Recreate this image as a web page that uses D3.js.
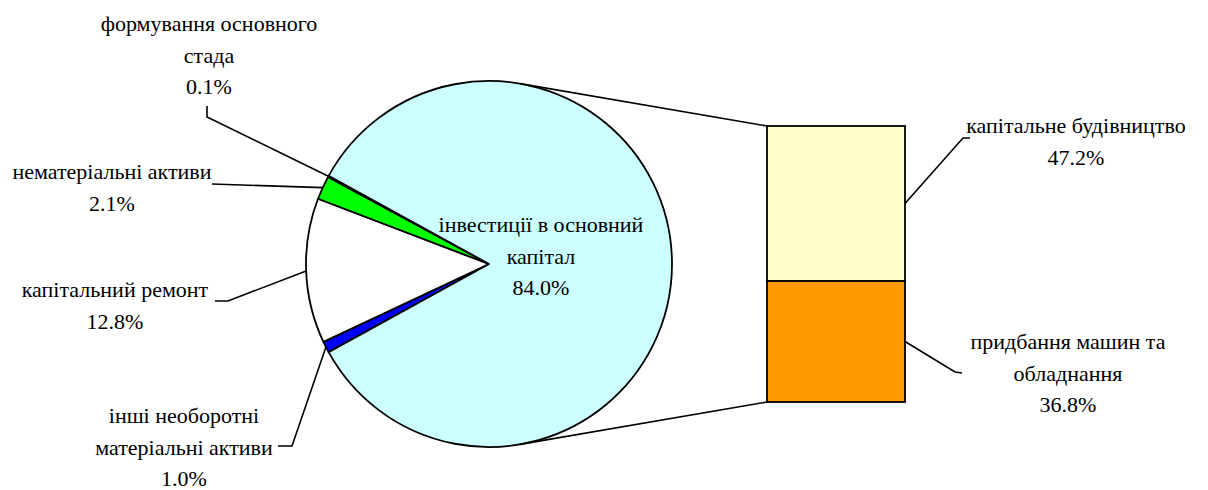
<!DOCTYPE html>
<html>
<head>
<meta charset="utf-8">
<script src="https://cdn.jsdelivr.net/npm/d3@7"></script>
<style>
  body { margin: 0; background: #fff; }
</style>
</head>
<body>
<div id="chart"></div>
<script>
// pie slices, clockwise from the lower-left edge of the small group
var pieNames = ["інші необоротні матеріальні активи", "капітальний ремонт", "нематеріальні активи", "формування основного стада", "інвестиції в основний капітал"];
var pieValues = [1.0, 12.8, 2.1, 0.1, 84.0];
var pieColors = ["#0000ff", "#ffffff", "#00ff00", "#333399", "#ccffff"];
// label lines as they wrap in the picture
var pieLabelLines = [
  ["інші необоротні", "матеріальні активи"],
  ["капітальний ремонт"],
  ["нематеріальні активи"],
  ["формування основного", "стада"],
  ["інвестиції в основний", "капітал"]
];

// the bar that splits the big slice
var barNames = ["капітальне будівництво", "придбання машин та обладнання"];
var barValues = [47.2, 36.8];
var barColors = ["#ffffcc", "#ff9900"];
var barLabelLines = [["капітальне будівництво"], ["придбання машин та", "обладнання"]];

var width = 1208, height = 490;
var cx = 489, cy = 264, r = 183;
var lineH = 31.5;
var FONT = "'Liberation Serif', 'DejaVu Serif', serif";

var svg = d3.select("#chart").append("svg")
  .attr("width", width)
  .attr("height", height);

var fmt = function(v) { return v.toFixed(1) + "%"; };

// small group (first four) is centred on the left side
var smallTotal = d3.sum(pieValues.slice(0, 4));
var total = d3.sum(pieValues);
var start = 1.5 * Math.PI - (smallTotal / total) * Math.PI;

var pie = d3.pie().sort(null).value(function(d) { return d; })
  .startAngle(start).endAngle(start + 2 * Math.PI);
var arcs = pie(pieValues);

var arc = d3.arc().innerRadius(0).outerRadius(r);
var edge = d3.arc().innerRadius(r).outerRadius(r);

var g = svg.append("g").attr("transform", "translate(" + cx + "," + cy + ")");

// bar geometry
var barX0 = 767, barX1 = 905;
var y = d3.scaleLinear().domain([0, d3.sum(barValues)]).range([126, 402]);

// connector lines, tangent from the bar corners to the circle
function tangent(px, py, side) {
  var dx = px - cx, dy = py - cy;
  var d = Math.sqrt(dx * dx + dy * dy);
  var a = Math.atan2(dy, dx) + side * Math.acos(r / d);
  return [cx + r * Math.cos(a), cy + r * Math.sin(a)];
}
var tTop = tangent(barX0, y(0), -1);
var tBot = tangent(barX0, y(d3.sum(barValues)), 1);
svg.append("line").attr("x1", tTop[0]).attr("y1", tTop[1]).attr("x2", barX0).attr("y2", y(0))
  .attr("stroke", "#000").attr("stroke-width", 1.6);
svg.append("line").attr("x1", tBot[0]).attr("y1", tBot[1]).attr("x2", barX0).attr("y2", y(d3.sum(barValues)))
  .attr("stroke", "#000").attr("stroke-width", 1.6);

g.selectAll("path.slice")
  .data(arcs)
  .enter()
  .append("path")
  .attr("class", "slice")
  .attr("d", arc)
  .attr("fill", function(d, i) { return pieColors[i]; })
  .attr("stroke", "#000")
  .attr("stroke-width", 1.8)
  .attr("stroke-linejoin", "round");

function addLabel(x, y0, lines) {
  var t = svg.append("text")
    .attr("text-anchor", "middle")
    .attr("font-size", 22)
    .attr("fill", "#000")
    .style("font-family", FONT);
  lines.forEach(function(s, k) {
    t.append("tspan").attr("x", x).attr("y", y0 + k * lineH).text(s);
  });
}

// label placement for the pie (centre x, first baseline, leader path from text)
var pieLabelPos = [
  { x: 184, y: 423, lead: [[278, 446], [292, 446]] },
  { x: 115, y: 297, lead: [[215, 301], [228, 301]] },
  { x: 112, y: 179, lead: [[212, 184]] },
  { x: 209, y: 31, lead: [[207, 106], [207, 117]] },
  { x: 541, y: 232, lead: null }
];

arcs.forEach(function(d, i) {
  var p = pieLabelPos[i];
  addLabel(p.x, p.y, pieLabelLines[i].concat([fmt(pieValues[i])]));
  if (p.lead) {
    var c = edge.centroid(d);
    var pts = p.lead.concat([[cx + c[0], cy + c[1]]]);
    svg.append("path")
      .attr("d", d3.line()(pts))
      .attr("fill", "none")
      .attr("stroke", "#000")
      .attr("stroke-width", 1.6);
  }
});

// stacked bar
var acc = 0;
var segs = barValues.map(function(v) { var s = { y0: acc, y1: acc + v, v: v }; acc += v; return s; });
svg.selectAll("rect.seg")
  .data(segs)
  .enter()
  .append("rect")
  .attr("class", "seg")
  .attr("x", barX0)
  .attr("y", function(d) { return y(d.y0); })
  .attr("width", barX1 - barX0)
  .attr("height", function(d) { return y(d.y1) - y(d.y0); })
  .attr("fill", function(d, i) { return barColors[i]; })
  .attr("stroke", "#000")
  .attr("stroke-width", 1.8);

var barLabelPos = [
  { x: 1076, y: 133, lead: [[963, 138], [970, 138]] },
  { x: 1068, y: 349, lead: [[955, 372], [962, 373]] }
];
segs.forEach(function(s, i) {
  var p = barLabelPos[i];
  addLabel(p.x, p.y, barLabelLines[i].concat([fmt(s.v)]));
  var pts = [[barX1, (y(s.y0) + y(s.y1)) / 2]].concat(p.lead);
  svg.append("path")
    .attr("d", d3.line()(pts))
    .attr("fill", "none")
    .attr("stroke", "#000")
    .attr("stroke-width", 1.6);
});
</script>
</body>
</html>
